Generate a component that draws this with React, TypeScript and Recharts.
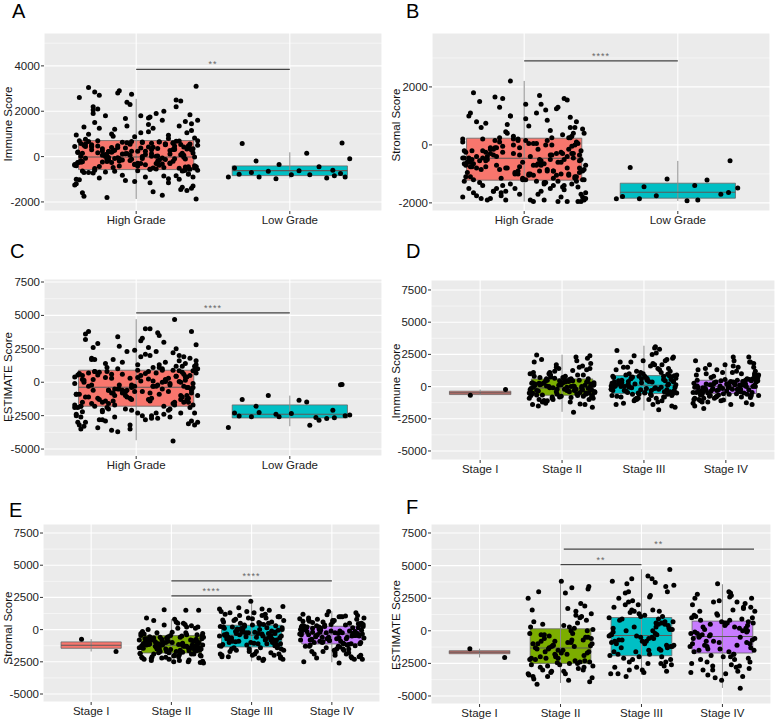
import React from 'react';
import { ComposedChart, Scatter, XAxis, YAxis, CartesianGrid, ReferenceArea, ReferenceLine } from 'recharts';

const RED = '#F8766D';
const CYAN = '#00BFC4';
const GREEN = '#7CAE00';
const PURPLE = '#C77CFF';

const GRADES = ['High Grade', 'Low Grade'];
const STAGES = ['Stage I', 'Stage II', 'Stage III', 'Stage IV'];

const TICKS_A = [-2000, 0, 2000, 4000];
const TICKS_B = [-2000, 0, 2000];
const TICKS_WIDE = [-5000, -2500, 0, 2500, 5000, 7500];

// jitter offsets, hundredths of a category
const JITTER = [-12, 31, -35, 8, 22, -27, 37, -4, 15, -39, 26, -18, 3, 34, -31, 11, -22, 39, -7, 19, -36, 28, -14, 6, 33, -25, 13, -40, 24, -9, 36, -20, 1, 29, -33, 17, -3, 38, -16, 9, -29, 21, -38, 35, -11, 4, -24, 30, -6, 14, -34, 40, -19, 25, -1, -28, 10, 32, -15, 18, -37];

// box stats: [min, q1, median, q3, max]
const IMMUNE_GRADE_BOX = [[-1870, -574, -20, 706, 2547], [-958, -839, -618, -411, 190]];
const STROMAL_GRADE_BOX = [[-1955, -1217, -459, 231, 2207], [-1931, -1838, -1631, -1321, -552]];
const ESTIMATE_GRADE_BOX = [[-4341, -1796, -374, 898, 4716], [-3293, -2672, -2395, -1697, -1000]];
const IMMUNE_STAGE_BOX = [[-670, -620, -490, -360, -230], [-1961, -673, -103, 596, 2477], [-1858, -542, 103, 851, 3173], [-1200, -542, 26, 490, 1703]];
const STROMAL_STAGE_BOX = [[-1700, -1450, -1217, -955, -740], [-2588, -1812, -1217, -466, 829], [-2458, -1346, -440, 337, 2251], [-2536, -1113, -336, 259, 1423]];
const ESTIMATE_STAGE_BOX = [[-2050, -1758, -1640, -1529, -1370], [-4000, -2500, -1323, 153, 3846], [-3364, -1911, -359, 1017, 4717], [-4380, -1705, -436, 742, 3570]];

const A_HIGH = [2800, -620, 150, 420, -300, 1500, -900, 60, 640, -1200, 2200, -40, 380, -760, 980, -500, 250, 3100, -1050, 520, -180, 1350, -650, 90, -1500, 700, 1900, -350, 310, -820, 1150, 0, -420, 2450, 560, -1700, -120, 820, -260, 1750, 470, -980, 200, -560, 2900, -80, 1250, -1350, 610, 30, -700, 1600, -220, 350, -1100, 2050, 130, -460, 900, -860, 2600, 480, -30, -1600, 1420, 270, -600, 160, 2300, -380, -1000, 680, -140, 1050, -780, 3050, 410, -240, -1870, 1680, 560, 20, -520, 1200, -900, 330, 2100, -300, -1250, 590, 110, 1450, -680, 240, -1450, 760, -60, 2750, -400, 1000, -560, 430, -1150, 180, 1850, -200, 640, -940, 70, 2400, -330, 1300, 500, -1800, -100, 870, -720, 300, 1550, -480, 2000, -1020, 400, 60, -640, 1100, -280, 2850, -1300, 540, -160, 950, -840, 220, 1800, -450, 670, -1550,
  350, -450, 120, 560, -250, 690, -80, 230, -520, 470, 10, -380, 610, -150, 290, 1800, -620, 80, 440, -330, 660, -20, 190, -560, 520, 940, -270, 370, -90, 620, -440, 150, 1350, -190, 500, -600, 40, 310, -350, 2200, 590, -110, 260, -480, 700, -50, 420, -230, 1700, 110, -530, 340, -170, 650, -400, 2500, 210, -300, 480, -700, 1250, 60, -460, 380, -130, 580, -1000, 280, -360, 1050, 170, -550, 450, -210, 630, -1400, 90, -290, 530, -70, 1600, 240, -500, 400, -1150, 300, 800, -260, 550, -420, 0, 2700, -640, 140, 360, -1750, 700, -120, 470, -340, 1900, 20, -580, 250];
const A_LOW = [600, 580, 150, -200, -100, -350, -450, -500, -600, -650, -620, -750, -700, -800, -900, -950, -980, -900, -900, -800, -850, -780];
const B_HIGH = [-1900, 300, -600, -1250, 1300, -200, -1700, 150, -900, -450, 1600, -1500, 50, -1100, 800, -700, -1850, 400, -300, -1400, 1000, -800, -50, -1950, 600, -550, -1300, 200, -1000, 2200, -350, -1600, 900, -150, -1200, 500, -750, -1800, 100, -650, 1500, -1050, -250, -1450, 700, -400, -1900, 250, -950, 1200, -500, -1650, -100, 350, -1150, -850, 1700, -300, -1750, 0, -600, 450, -1350, 1100, -700, -1950, 200, -500, -1000, 850, -200, -1550, -400, 650, -1250, -800, 1400, -100, -1900, 300, -900, -450, 1550, -1400, 50, -1150, 750, -650, -1800, -250, 1000, -550, -1600, 150, -1050, 1800, -350, -1700, 550, -850, -150, -1300, 1250, -700, -1950, 400, -1000, -500, 950, -1500, 0, -750, -1850, 1650, -300, -1200, 600, -900, -450, -1650, 250, -600,
  -800, -300, -1100, 50, -600, -1400, -200, -900, 150, -1250, -500, -700, -1000, 100, -400, -1600, -150, -850, 200, -1150, -550, -1950, -250, -1050, 0, -750, -1350, -450, -1800, 1000, -950, -350, -1200, 250, -650, -1500, -100, -900, 1300, -1700, -550, -300, -1100, 50, -800, -1900, -400, 600, -1000, -1300, -200, -700, 150, -1450, -600, -1850, -500, 400, -1150, -350, -950, -1600, -50, -750, 1100, -1250, -450, -1950, 200, -850, -650, -1400, -100, -1050, 800, -1750, -550, -300, -1200, 0, -900, -1500, -400, 1600, -700, -1100, -250, -1900, 100, -600, -1350, -800, -150, 1400, -1000, -1650, -500, -350, -1200, 250];
const B_LOW = [-550, -780, -1400, -1440, -1490, -1180, -1210, -1780, -1700, -1750, -1930, -1640, -1860, -1900, -1860];
const C_HIGH = [3400, -1500, 200, 800, -2600, 1700, -400, -3200, 1100, -900, 2500, -2000, 500, -1200, 3800, -300, -2800, 1300, -700, 100, -3500, 2000, -1700, 650, -1000, 2900, -2300, 400, -4400, 1500, -600, -2900, 900, -1300, 3600, 0, -2100, 1200, -800, 4000, -1600, 300, -3000, 1800, -500, -2500, 750, -1100, 2300, -200, -3300, 1000, -1900, 4700, -700, 200, -2700, 1400, -1400, 3000, -900, -3700, 600, -2200, 2600, -100, -1800, 850, -1200, 3500, -2400, 450, -600, 1900, -3100, -300, 1100, -1500, 2800, -2000, 50, -2600, 1600, -1000, 4000, -400, -3400, 700, -1700, 2200, -800, -2900, 350, 1300, -2300, 3200, -500, -1300, 900, -3600, 2000, -200, -2100, 550, -1900, 2700, -700, -2800, 1200, -1100, 3700, 0, -3000, 800, -1500, 2400, -600, -2500, 150, 1700, -1800, -3200, 1000, -300,
  500, -1300, -200, 800, -1700, 300, -900, -2500, 1200, -600, 100, -1500, 700, -300, -2100, 1600, -1000, 200, -1800, 850, -500, -2800, 400, -1200, 2300, -100, -1600, 600, -800, 1400, -2300, 0, -1100, 900, -400, -3200, 300, -1400, 1800, -700, -1900, 500, -200, 3300, -1300, 750, -600, -2700, 150, -1000, 1100, -1700, -300, 2600, -1200, 400, -800, -2400, 650, -500, 1900, -1500, 250, -2000, 800, -100, -3500, 1300, -900, 450, -1600, 3100, -400, -1100, 100, -2200, 700, -700, 1500, -1800, 50, -2600, 2100, -1300, 550, -300, -1900, 900, -600, 3800, -1400, 350, -1000, -3000, 1000, -200, -2300, 600, -800, 1700];
const C_LOW = [-175, -1290, -1470, -1790, -2460, -2590, -2840, -2310, -2090, -1000, -1340, -180, -2590, -3210, -3390, -2710, -2390, -2510, -2260, -2340, -2660, -2520, -2640];

const D_I = [-670, -230];
const D_II = [2400, -300, 600, -1100, 150, 1500, -700, 300, -1400, 900, -50, -500, 2100, 450, -900, 0, 1200, -250, -1300, 700, -600, 200, 2300, -800, 100, 1000, -400, -1500, 500, -150, 1800, -1000, 350, -650, 1300, -200, -2000, 800, -450, 50, 1600, -750, 250, -1200, 600, -100, 2000, -550, -900, 400, 1100, -350, -1350, 150, -700, 1400, 0, -250, 900, -1100, 550, -50, 2450, -850, 300, -400, 1700, -600, -1400, 100, 750, -300, -1000, 200, 1250, -500, -150, 650, -800, 450,
  300, -500, 100, -200, 450, -900, 0, 550, -350, 1500, -700, 200, -100, 800, -1200, 350, -600, 50, 1900, -400, 600, -250, 150, -1000, 500, -150, 1100, -550, 250, -800, 2200, -50, 400, -450, 700, -1600, 100, -300, 1000, -750, 500, -200, 1400, -650, 0, -1100, 300, -400, 900, -500];
const D_III = [3000, -200, 800, -900, 400, 1500, -500, 100, 2800, -1200, 600, -50, 1900, -700, 250, 1100, -300, 2200, -1000, 500, 0, 1400, -600, 3100, -1400, 900, 150, -400, 2000, -800, 350, 1200, -100, -1800, 700, 2400, -500, 50, 1600, -1100, 300, 850, -250, 2600, -700, 450, 1000, -150, -1500, 200, 1800, -350, 650, -900, 1300, 0, 2100, -600, 400, 750, -1300, 1700, -200, 550, -1000, 2300, 100, -450, 950, -750, 1400, 300, -1600, 600, -300, 1900, -50, 800, -550, 200,
  600, -300, 200, 800, -100, 1300, -500, 400, -800, 1000, 0, 2500, -400, 700, -200, 300, -1100, 850, 100, -600, 1700, 500, -300, 1100, -900, 250, 2000, -50, 650, -700, 450, -1400, 900, 150, -500, 2900, 350, -250, 750, -1000, 550, 1500, -150, 50, -800, 1200, 400, -450, 800, -600];
const D_IV = [2300, -300, 400, -900, 100, 1300, -600, 200, 1900, -1100, 500, -100, 900, -700, 0, 1700, -400, 300, -1400, 800, -200, 2000, -800, 450, 50, 1100, -500, -1700, 350, -150, 1500, -1000, 600, -350, 150, 1800, -650, 250, -1200, 700, -50, 1000, -450, 2300, -900, 400, 0, 1400, -550, -1300, 500, -250, 1200, -750, 200, 1900, -400, 100, -1050, 650, -150, 1600, -600, 300, -1500, 850, -300, 50, 1000, -850, 450, -200, 1300, -700, 150, -1250, 550, -100, 2000, -450,
  200, -400, 0, 350, -700, 500, -200, 100, -900, 400, 1100, -300, 250, -600, 700, -100, 1500, -1100, 150, -500, 450, 50, -800, 900, -250, 300, -1400, 600, -150, 1200, -450, 200, -650, 0, 1700, -350, 550, -1000, 100, -550, 800, -200, 350, -1200, 400, -50, 1000, -750, 250, -300];

const E_I = [-740, -1700];
const E_II = [1500, -1200, -600, -1900, -300, -1500, 200, -2200, -900, -1700, 600, -1100, -2400, -500, -1400, -800, 1550, -2000, -1300, -200, -1600, -1000, 400, -2300, -700, -1800, -1150, 0, -2500, -450, -1450, -950, 800, -2100, -1250, -650, -1750, -350, -2600, -1050, 300, -1550, -850, -1950, -400, -1350, 1500, -2150, -750, -1650, -1100, 100, -2350, -550, -1500, -900, 500, -1850, -1200, -250, -2050, -1400, -700, -1600, 700, -2450, -1000, -1300, -150, -1900, -600, -1700, 200, -2250, -1150, -800, -1450, 350, -2550, -950,
  -1000, -1500, -700, -1300, -1800, -500, -1100, -2100, -900, -1400, -300, -1600, -1200, -2000, -800, 100, -1700, -1050, -2300, -600, -1350, -1900, -450, -1150, -2400, -950, -1550, -250, -1250, -2200, -750, -1450, 500, -1650, -1100, -2050, -550, -1300, -1850, -850, -1500, -2500, -1000, 900, -1750, -650, -1200, -2150, -400, -1400];
const E_III = [1600, -500, -1800, 300, -1100, 800, -2000, -300, 1200, -800, -1500, 0, 1700, -2200, -600, 500, -1300, 1000, -200, -1900, 200, -900, 1400, -2400, -400, 700, -1600, -100, 2200, -1000, 400, -1400, 1100, -700, -2100, 100, -1200, 600, -300, 1500, -1700, -500, 900, -2300, 250, -1000, -50, 1300, -1900, -700, 450, -1400, 1800, -250, -1100, 750, -2000, 50, -600, 1000, -1500, -350, 1600, -800, 350, -2200, -150, 850, -1250, -450, 1200, -1700, 150, -900, 550, -2100, -300, 1400, -650, 0,
  -200, -900, 300, -1200, -500, 100, -1600, -300, 600, -1000, -700, 0, -1300, -400, 900, -2000, -100, -800, 200, -1100, -600, 1300, -1500, -250, 400, -1900, -750, 50, -1050, 1000, -350, -1400, 700, -2300, -550, 150, -1150, -850, 500, -1700, -50, -650, 1100, -1250, -450, 250, -2100, -950, 350, -200];
const E_IV = [1000, -400, -1800, 200, -1100, 600, -2000, -200, 1300, -700, -1500, 0, 900, -2200, -500, 400, -1300, -100, 1100, -900, -1900, 300, -600, 800, -2500, -300, 500, -1200, -50, 1400, -1600, -800, 150, -400, 700, -2100, -150, 1000, -1000, 250, -1400, -600, 1200, -2300, 100, -700, 450, -1700, -250, 850, -1100, 350, -2000, -500, 600, -1250, 0, 1050, -850, -350, 200, -2600, 750, -1500, -200, 400, -950, -1800, 550, -450, 1150, -1050, 50, -650, 300, -2200, -100, 650, -1350, -300,
  -200, -700, 100, -1000, -400, 300, -1300, -100, -800, 500, -600, -1100, 0, -300, 800, -1600, -500, 200, -900, -1900, 400, -250, -1200, 650, -450, -50, -1500, 150, -750, 1000, -350, -2100, 250, -1000, -550, 700, -150, -1300, 350, -850, -2300, 50, -650, 900, -1150, -400, 450, -1700, -250, 100];

const F_I = [-1370, -2050];
const F_II = [3200, -1300, -2500, 500, -3600, -800, 1500, -2100, -3000, -400, 2900, -1700, -2800, 0, -3300, 1000, -1100, -2400, -600, 3800, -1900, -3700, 200, -1500, 1300, -2700, -900, -4100, 600, -2200, 3400, -1200, -3100, -300, 1900, -2000, -700, -3500, 100, -1600, 2100, -2600, -1000, -3800, 800, -1400, -2300, 300, -3200, -500, 1600, -1800, -2900, 3000, -1150, -2450, -200, -3400, 1100, -2100,
  -1500, -500, -2200, 300, -3000, -1000, -1800, 1200, -2600, -700, -1300, -3300, 0, -2000, -900, 2500, -2400, -1100, -3900, -300, -1700, -2800, 700, -1200, -2100, -600, -3500, 1700, -1400, -2500, -200, -1600, -3100, 400, -800, -2300, -1900, 3300, -1000, -2700];
const F_III = [4000, -400, -2500, 1500, -1200, 2900, -3000, 500, -800, 3700, -2000, 100, 2200, -1500, -3300, 900, -300, 4700, -2200, 1200, -700, 3400, -2800, 0, 1800, -1100, -3500, 600, -500, 2500, -1800, 3000, -2400, 300, -900, 1600, -3100, -100, 4200, -1400, 800, -2600, 2000, -600, -1900, 1100, 3600, -3200, 200, -1000, 2700, -2100, 700, -1600, -300, 3800, -2700, 1400, -800, 400, -1300,
  -500, 1000, -1500, 300, -2200, 2000, -800, 700, -2800, -200, 1300, -1200, 3000, -600, -1800, 500, -3300, 100, 2300, -1000, 900, -2400, -400, 1600, -1600, 3500, 0, -2000, 1100, -700, 2600, -1300, -3000, 600, -300, 4000, -1100, 200, -2500, 1500];
const F_IV = [2600, -500, -2700, 1000, -1300, 2200, -3300, 300, -900, 3600, -1800, -100, 1500, -2400, -3500, 700, -400, 2900, -2100, 500, -1100, 2000, -3000, 0, 1200, -1600, -4400, 800, -700, 2300, -2200, -200, 1800, -3400, 400, -1000, 2800, -2600, 100, -1500, 1300, -3100, -600, 2100, -1900, 600, -2900, -300, 1600, -1200, 900, -3600, 2500, -800, -2000, 200, 1100, -2800, -1400, 600,
  -400, 800, -1500, 200, -2500, 1800, -800, 500, -3000, -100, 1200, -1800, 2500, -600, -1200, 0, -3800, 1500, -2000, 700, -300, 2200, -1000, -2700, 400, -1600, 3000, -500, -2200, 1000, -900, 300, -3200, 1700, -1400, 600, -2400, -200, 2700, -1100];

// significance brackets: [from, to, y, label]
const SIG_A: [number, number, number, string][] = [[1, 2, 3850, '**']];
const SIG_B: [number, number, number, string][] = [[1, 2, 2897, '****']];
const SIG_C: [number, number, number, string][] = [[1, 2, 5187, '****']];
const SIG_E: [number, number, number, string][] = [[2, 3, 2613, '****'], [2, 4, 3778, '****']];
const SIG_F: [number, number, number, string][] = [[2, 3, 5070, '**'], [2.04, 4.39, 6270, '**']];

const FONT = '"Liberation Sans", Arial, sans-serif';
const HALF = 0.375;

interface PanelProps {
  letter: string;
  left: number;
  top: number;
  width: number;
  height: number;
  mt: number;
  mr: number;
  yw: number;
  xh: number;
  letterPos: [number, number];
  titlePos: [number, number];
  yLabel: string;
  cats: string[];
  colors: string[];
  boxes: number[][];
  points: number[][];
  domain: [number, number];
  ticks: number[];
  minor: number[];
  sigs: [number, number, number, string][];
}

const Panel: React.FC<PanelProps> = (p) => {
  const n = p.cats.length;
  const xTicks = p.cats.map((_, i) => i + 1);
  const pts = p.points.flatMap((ys, g) =>
    ys.map((y, i) => ({ x: g + 1 + JITTER[(i + g * 13) % JITTER.length] / 100, y }))
  );
  const stars = p.sigs.map((s) => ({ x: (s[0] + s[1]) / 2, y: s[2], label: s[3] }));
  return (
    <>
      <div style={{ position: 'absolute', left: p.letterPos[0], top: p.letterPos[1], fontSize: 20, lineHeight: '20px', color: '#000' }}>
        {p.letter}
      </div>
      <div
        style={{
          position: 'absolute', left: p.titlePos[0], top: p.titlePos[1], fontSize: 11.5, color: '#111',
          whiteSpace: 'nowrap', transform: 'translate(-50%, -50%) rotate(-90deg)',
        }}
      >
        {p.yLabel}
      </div>
      <div style={{ position: 'absolute', left: p.left, top: p.top }}>
        <ComposedChart width={p.width} height={p.height} margin={{ top: p.mt, right: p.mr, bottom: 0, left: 0 }}>
          <CartesianGrid fill="#EBEBEB" stroke="#FFFFFF" strokeWidth={1.1} />
          <CartesianGrid vertical={false} horizontalValues={p.minor} stroke="#FFFFFF" strokeWidth={0.5} />
          <XAxis
            type="number" dataKey="x" domain={[0.4, n + 0.6]} ticks={xTicks} interval={0} allowDataOverflow
            height={p.xh} axisLine={false} tickSize={3} tickMargin={2} tickLine={{ stroke: '#333' }}
            tick={{ fontSize: 11.5, fill: '#222' }} tickFormatter={(v: number) => p.cats[Math.round(v) - 1] ?? ''}
          />
          <YAxis
            type="number" dataKey="y" domain={p.domain} ticks={p.ticks} interval={0} allowDataOverflow
            width={p.yw} axisLine={false} tickSize={3} tickMargin={1} tickLine={{ stroke: '#333' }}
            tick={{ fontSize: 11.5, fill: '#222' }}
          />
          {p.boxes.map((b, i) => (
            <ReferenceArea
              key={'box' + i} x1={i + 1 - HALF} x2={i + 1 + HALF} y1={b[1]} y2={b[3]}
              fill={p.colors[i]} fillOpacity={1} stroke="#666" strokeWidth={0.8} zIndex={100}
            />
          ))}
          {p.boxes.map((b, i) => (
            <ReferenceLine
              key={'wh' + i} segment={[{ x: i + 1, y: b[0] }, { x: i + 1, y: b[4] }]}
              stroke="#8c8c8c" strokeWidth={1} zIndex={120}
            />
          ))}
          {p.boxes.map((b, i) => (
            <ReferenceLine
              key={'md' + i} segment={[{ x: i + 1 - HALF, y: b[2] }, { x: i + 1 + HALF, y: b[2] }]}
              stroke="#5a5a5a" strokeWidth={1.1} zIndex={140}
            />
          ))}
          <Scatter
            data={pts} isAnimationActive={false} zIndex={600}
            shape={(s: any) => <circle cx={s.cx} cy={s.cy} r={2.5} fill="#000" />}
          />
          {p.sigs.map((s, i) => (
            <ReferenceLine
              key={'sig' + i} segment={[{ x: s[0], y: s[2] }, { x: s[1], y: s[2] }]}
              stroke="#444" strokeWidth={1.3} zIndex={700}
            />
          ))}
          <Scatter
            data={stars} isAnimationActive={false} zIndex={700}
            shape={(s: any) => (
              <text x={s.cx} y={s.cy - 2} textAnchor="middle" fontSize={9} fill="#666" letterSpacing={1}>
                {s.payload?.label}
              </text>
            )}
          />
        </ComposedChart>
      </div>
    </>
  );
};

const MINOR_WIDE = [-3750, -1250, 1250, 3750, 6250];

export default function App() {
  return (
    <div style={{ position: 'absolute', left: 0, top: 0, width: 778, height: 722, background: '#fff', fontFamily: FONT, overflow: 'hidden' }}>
      <Panel
        letter="A" left={0} top={0} width={388} height={236} mt={33} mr={6} yw={44} xh={25}
        letterPos={[12, 1]} titlePos={[8, 124]} yLabel="Immune Score"
        cats={GRADES} colors={[RED, CYAN]} boxes={IMMUNE_GRADE_BOX} points={[A_HIGH, A_LOW]}
        domain={[-2400, 5450]} ticks={TICKS_A} minor={[-1000, 1000, 3000, 5000]} sigs={SIG_A}
      />
      <Panel
        letter="B" left={388} top={0} width={388} height={236} mt={33} mr={6} yw={44} xh={25}
        letterPos={[406, 1]} titlePos={[396, 125]} yLabel="Stromal Score"
        cats={GRADES} colors={[RED, CYAN]} boxes={STROMAL_GRADE_BOX} points={[B_HIGH, B_LOW]}
        domain={[-2280, 3860]} ticks={TICKS_B} minor={[-1000, 1000, 3000]} sigs={SIG_B}
      />
      <Panel
        letter="C" left={0} top={240} width={388} height={240} mt={39} mr={6} yw={44} xh={24}
        letterPos={[10, 241]} titlePos={[8, 377]} yLabel="ESTIMATE Score"
        cats={GRADES} colors={[RED, CYAN]} boxes={ESTIMATE_GRADE_BOX} points={[C_HIGH, C_LOW]}
        domain={[-5520, 7725]} ticks={TICKS_WIDE} minor={MINOR_WIDE} sigs={SIG_C}
      />
      <Panel
        letter="D" left={388} top={240} width={390} height={240} mt={40} mr={3} yw={43} xh={20}
        letterPos={[406, 241]} titlePos={[396, 381]} yLabel="Immune Score"
        cats={STAGES} colors={[RED, GREEN, CYAN, PURPLE]} boxes={IMMUNE_STAGE_BOX} points={[D_I, D_II, D_III, D_IV]}
        domain={[-5700, 8275]} ticks={TICKS_WIDE} minor={MINOR_WIDE} sigs={[]}
      />
      <Panel
        letter="E" left={0} top={480} width={388} height={242} mt={44} mr={8} yw={43} xh={20}
        letterPos={[9, 500]} titlePos={[8, 628]} yLabel="Stromal Score"
        cats={STAGES} colors={[RED, GREEN, CYAN, PURPLE]} boxes={STROMAL_STAGE_BOX} points={[E_I, E_II, E_III, E_IV]}
        domain={[-5620, 8200]} ticks={TICKS_WIDE} minor={MINOR_WIDE} sigs={SIG_E}
      />
      <Panel
        letter="F" left={388} top={480} width={390} height={242} mt={44} mr={7} yw={43} xh={18}
        letterPos={[406, 497]} titlePos={[396, 625]} yLabel="ESTIMATE Score"
        cats={STAGES} colors={[RED, GREEN, CYAN, PURPLE]} boxes={ESTIMATE_STAGE_BOX} points={[F_I, F_II, F_III, F_IV]}
        domain={[-5615, 8190]} ticks={TICKS_WIDE} minor={MINOR_WIDE} sigs={SIG_F}
      />
    </div>
  );
}
